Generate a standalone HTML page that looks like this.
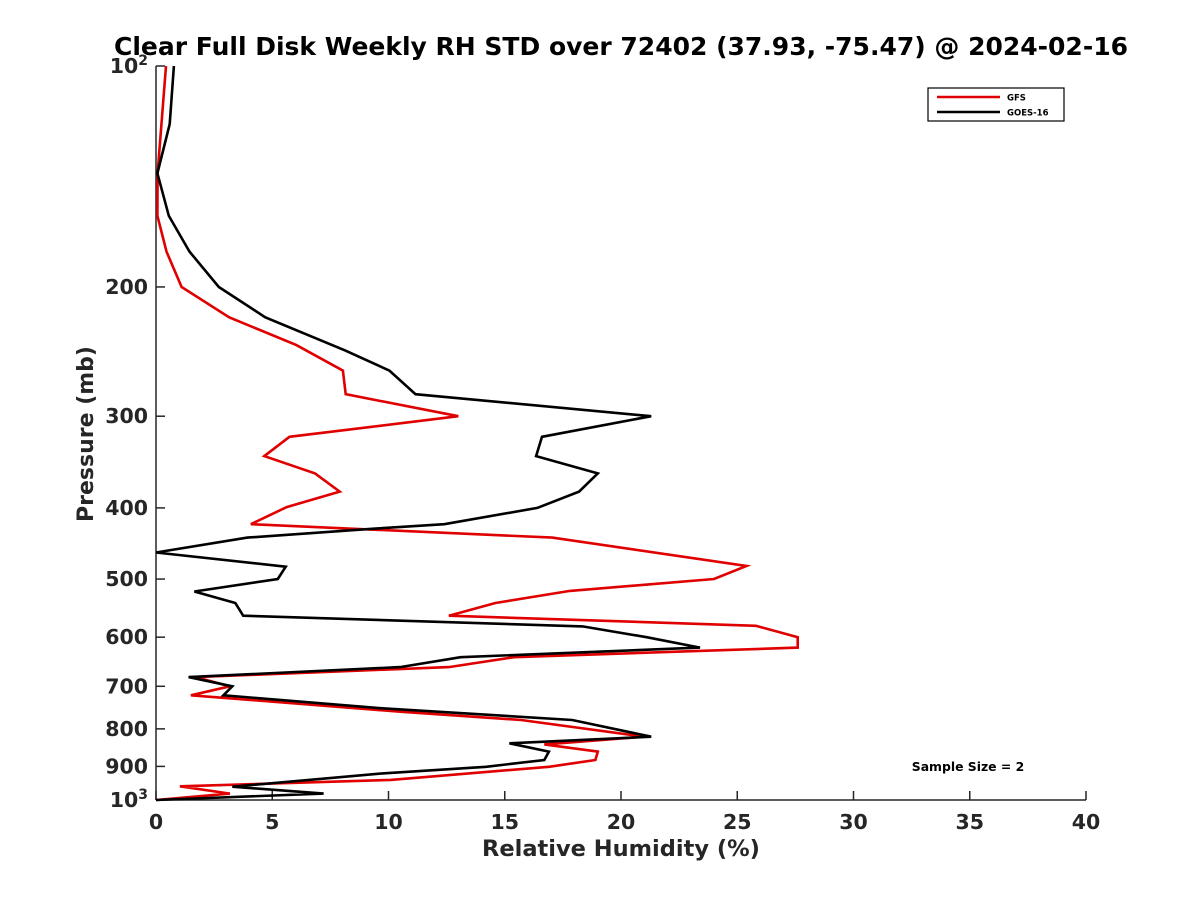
<!DOCTYPE html>
<html><head><meta charset="utf-8"><style>
body{margin:0;background:#fff;}
svg text{font-family:"DejaVu Sans","Liberation Sans",sans-serif;font-weight:bold;fill:#262626;}
</style></head><body>
<svg id="chart" width="1200" height="900" xmlns="http://www.w3.org/2000/svg">
<rect width="1200" height="900" fill="#fff"/>
<text x="621" y="55" font-size="25" text-anchor="middle" style="fill:#000">Clear Full Disk Weekly RH STD over 72402 (37.93, -75.47) @ 2024-02-16</text>
<g id="axes"></g>
<g id="series"></g>
<text x="621" y="856" font-size="22.5" text-anchor="middle">Relative Humidity (%)</text>
<text x="0" y="0" font-size="22" text-anchor="middle" transform="translate(93,434) rotate(-90)">Pressure (mb)</text>
<text x="968" y="771" font-size="12.4" text-anchor="middle" style="fill:#000">Sample Size = 2</text>
<g>
<rect x="928" y="88" width="136" height="33" fill="#fff" stroke="#000" stroke-width="1.2"/>
<line x1="937" y1="97" x2="1000" y2="97" stroke="#e00000" stroke-width="2.5"/>
<text x="1007" y="100.5" font-size="8.5" style="fill:#000">GFS</text>
<line x1="937" y1="112" x2="1000" y2="112" stroke="#000" stroke-width="2.5"/>
<text x="1007" y="115.5" font-size="8.5" style="fill:#000">GOES-16</text>
</g>
</svg>
<script>
const xTicks=[0,5,10,15,20,25,30,35,40];
const yTicks=[100,200,300,400,500,600,700,800,900,1000];
const yTickLabels=["10","200","300","400","500","600","700","800","900","10"];
const yTickSup=["2","","","","","","","","","3"];
const gfsP=[100,140,160,179,200,220,240,260,280,300,320,340,359,380,399,421,439,480,500,519,539,561,579,600,620,639,659,680,700,720,758,778,820,840,859,882,901,939,958,980,1000];
const gfsRH=[0.43,0.07,0.06,0.45,1.1,3.15,6.04,8.04,8.16,13.0,5.74,4.66,6.84,7.9,5.62,4.08,17.04,25.4,24.0,17.8,14.6,12.6,25.8,27.6,27.6,15.4,12.6,1.7,3.18,1.5,10.5,15.7,21.0,16.7,19.0,18.9,16.9,10.1,1.03,3.18,0];
const goesP=[100,120,140,160,179,200,220,244,260,280,300,320,340,359,380,400,421,427,439,460,481,500,520,539,561,580,600,620,639,659,680,700,720,750,778,820,837,859,882,901,920,959,980,1000];
const goesRH=[0.77,0.59,0.06,0.55,1.44,2.7,4.7,8.12,10.04,11.16,21.3,16.6,16.35,19.0,18.2,16.4,12.4,9.36,3.93,0,5.58,5.24,1.65,3.41,3.75,18.35,21.1,23.4,13.1,10.5,1.4,3.28,2.9,9.74,17.9,21.3,15.2,16.9,16.7,14.2,9.74,3.28,7.21,0];
const NS="http://www.w3.org/2000/svg";
const X0=156,X1=1086,Y0=66,Y1=800;
function xs(v){return X0+(v-0)/(40-0)*(X1-X0);}
function ys(p){return Y0+(Math.log10(p)-2)*(Y1-Y0);}
const axes=document.getElementById('axes');
function mk(tag,attrs,parent){const e=document.createElementNS(NS,tag);for(const k in attrs)e.setAttribute(k,attrs[k]);parent.appendChild(e);return e;}
let l=mk('line',{x1:X0,y1:Y0,x2:X0,y2:Y1,stroke:'#262626','stroke-width':1.5},axes);


l=mk('line',{x1:X0,y1:Y1,x2:X1,y2:Y1,stroke:'#262626','stroke-width':1.5},axes);


xTicks.forEach(v=>{
 const t=mk('line',{x1:xs(v),y1:Y1,x2:xs(v),y2:Y1-9,stroke:'#262626','stroke-width':1.5},axes);
 
 
 const tx=mk('text',{x:xs(v),y:829,'font-size':20.5,'text-anchor':'middle'},axes);
 tx.textContent=v;
 
 
});
yTicks.forEach((p,i)=>{
 const t=mk('line',{x1:X0,y1:ys(p),x2:X0+9,y2:ys(p),stroke:'#262626','stroke-width':1.5},axes);
 
 
 const tx=mk('text',{x:148,y:ys(p)+7,'font-size':20.5,'text-anchor':'end'},axes);
 
 
 const a=mk('tspan',{},tx);a.textContent=yTickLabels[i];
 if(yTickSup[i]){const s=mk('tspan',{'font-size':14,dy:-8},tx);s.textContent=yTickSup[i];}
});
const ser=document.getElementById('series');
function line(P,V,color,name){
 const d=P.map((p,i)=>(i?'L':'M')+xs(V[i]).toFixed(1)+','+ys(p).toFixed(1)).join('');
 const e=mk('path',{d:d,fill:'none',stroke:color,'stroke-width':2.6,'stroke-linejoin':'miter'},ser);
 
 
}
line(gfsP,gfsRH,'#e00000','gfs-line');
line(goesP,goesRH,'#000','goes16-line');
</script>
</body></html>
